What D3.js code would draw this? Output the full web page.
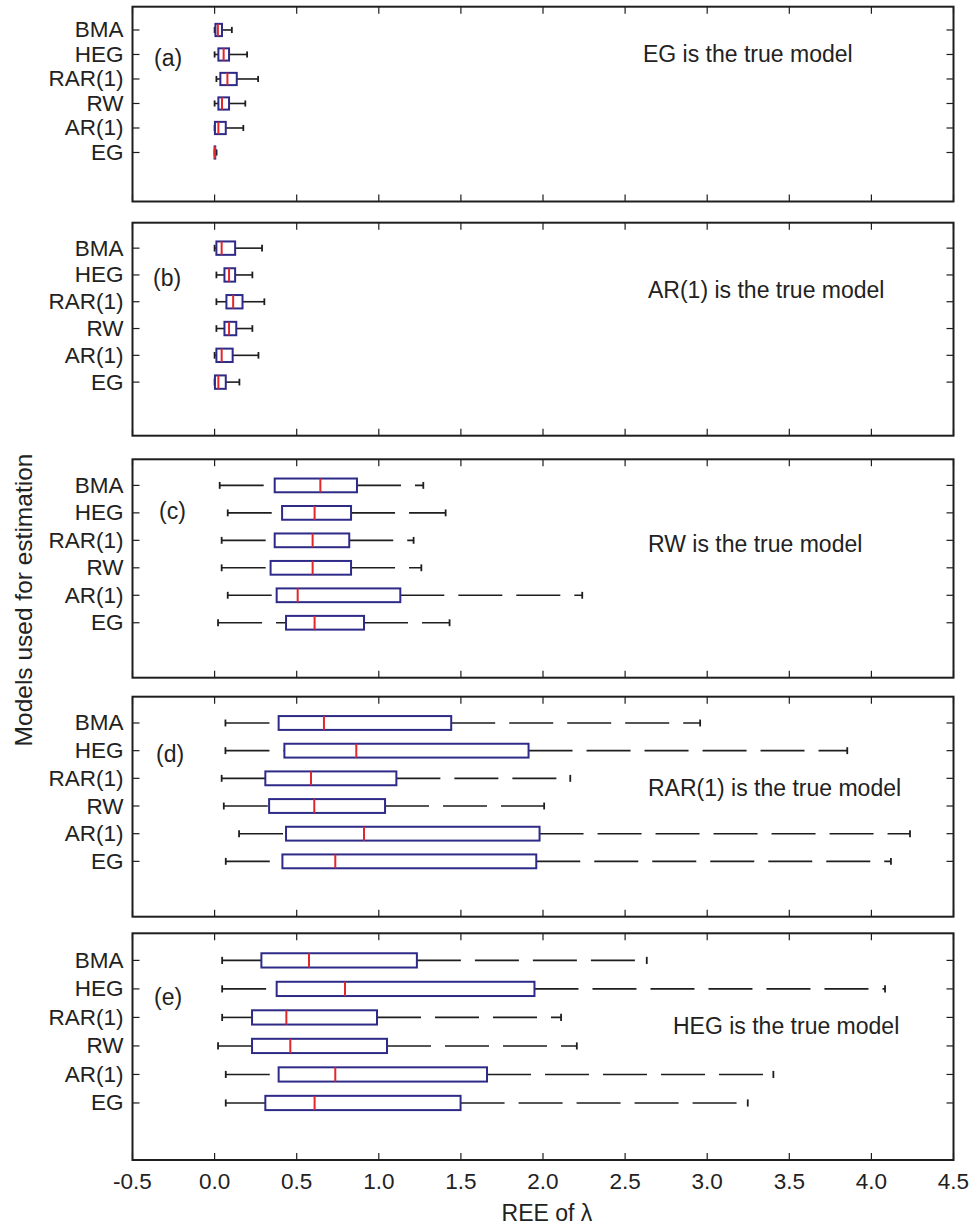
<!DOCTYPE html>
<html>
<head>
<meta charset="utf-8">
<script src="https://cdn.jsdelivr.net/npm/d3@7"></script>
<style>
  html, body { margin: 0; padding: 0; background: #fff; }
  svg { display: block; }
  text { font-family: "Liberation Sans", Arial, Helvetica, sans-serif; fill: #222; }
</style>
</head>
<body>
<svg id="chart" width="974" height="1228"></svg>
<script>
// ---------------- data ----------------
const categories = ["BMA", "HEG", "RAR(1)", "RW", "AR(1)", "EG"];
const panelTags = ["(a)", "(b)", "(c)", "(d)", "(e)"];
const trueModels = ["EG", "AR(1)", "RW", "RAR(1)", "HEG"];
const xTickValues = [-0.5, 0, 0.5, 1, 1.5, 2, 2.5, 3, 3.5, 4, 4.5];
const xTickLabels = ["-0.5", "0.0", "0.5", "1.0", "1.5", "2.0", "2.5", "3.0", "3.5", "4.0", "4.5"];
const xAxisTitle = "REE of \u03BB";
const yAxisTitle = "Models used for estimation";

// panel (a): EG is the true model
const loA  = [0.000, 0.000, 0.011, 0.000, 0.000, 0.000];
const q1A  = [0.005, 0.023, 0.035, 0.023, 0.002, 0.000];
const medA = [0.020, 0.055, 0.078, 0.045, 0.023, 0.002];
const q3A  = [0.045, 0.088, 0.135, 0.088, 0.068, 0.004];
const hiA  = [0.105, 0.198, 0.265, 0.187, 0.175, 0.012];
// panel (b): AR(1) is the true model
const loB  = [0.000, 0.011, 0.011, 0.011, 0.000, 0.000];
const q1B  = [0.011, 0.060, 0.072, 0.060, 0.011, 0.002];
const medB = [0.043, 0.088, 0.113, 0.088, 0.043, 0.023];
const q3B  = [0.125, 0.125, 0.170, 0.132, 0.110, 0.068];
const hiB  = [0.289, 0.230, 0.303, 0.230, 0.267, 0.151];
// panel (c): RW is the true model
const loC  = [0.031, 0.080, 0.043, 0.043, 0.080, 0.021];
const q1C  = [0.366, 0.411, 0.366, 0.341, 0.378, 0.435];
const medC = [0.644, 0.609, 0.597, 0.597, 0.506, 0.609];
const q3C  = [0.867, 0.831, 0.820, 0.831, 1.131, 0.910];
const hiC  = [1.271, 1.407, 1.212, 1.259, 2.239, 1.431];
// panel (d): RAR(1) is the true model
const loD  = [0.066, 0.066, 0.043, 0.056, 0.149, 0.068];
const q1D  = [0.390, 0.425, 0.309, 0.332, 0.435, 0.413];
const medD = [0.666, 0.863, 0.587, 0.607, 0.910, 0.735];
const q3D  = [1.441, 1.912, 1.107, 1.038, 1.979, 1.959];
const hiD  = [2.957, 3.853, 2.166, 2.007, 4.235, 4.119];
// panel (e): HEG is the true model
const loE  = [0.046, 0.046, 0.046, 0.021, 0.068, 0.068];
const q1E  = [0.285, 0.378, 0.228, 0.228, 0.390, 0.309];
const medE = [0.575, 0.794, 0.437, 0.461, 0.735, 0.609];
const q3E  = [1.232, 1.948, 0.989, 1.050, 1.659, 1.498];
const hiE  = [2.632, 4.083, 2.110, 2.206, 3.403, 3.247];

const panelStats = [
  { lo: loA, q1: q1A, med: medA, q3: q3A, hi: hiA },
  { lo: loB, q1: q1B, med: medB, q3: q3B, hi: hiB },
  { lo: loC, q1: q1C, med: medC, q3: q3C, hi: hiC },
  { lo: loD, q1: q1D, med: medD, q3: q3D, hi: hiD },
  { lo: loE, q1: q1E, med: medE, q3: q3E, hi: hiE }
];

// ---------------- layout / style ----------------
const plotLeft = 132.5, plotRight = 953.5;
const panelTops = [6.7, 222.7, 459.3, 696.7, 933.3];
const panelBottoms = [201.5, 435.7, 677.7, 916.7, 1160];
const tagX = [154, 153, 159, 156, 154];
const tagY = [2.15, 2.1, 1.95, 2.12, 2.28];       // in category units (BMA=1)
const noteX = [643, 648, 648, 648, 673];
const noteY = [2.0, 2.55, 3.15, 3.35, 3.3];       // in category units
const fontSize = 22.5;
const boxColor = "#2e2b88", medColor = "#e3262c", inkColor = "#1e1e1e";
const tickLen = 7;

const svg = d3.select("#chart");
const x = d3.scaleLinear().domain([-0.5, 4.5]).range([plotLeft, plotRight]);

panelStats.forEach((st, p) => {
  const y = d3.scaleLinear().domain([0.05, 8]).range([panelTops[p], panelBottoms[p]]);
  const unit = y(2) - y(1);
  const g = svg.append("g");

  // y tick labels
  g.selectAll("text.cat").data(categories).join("text")
    .attr("class", "cat")
    .attr("x", plotLeft - 9)
    .attr("y", (d, i) => y(i + 1))
    .attr("text-anchor", "end")
    .attr("dominant-baseline", "central")
    .style("font-size", fontSize + "px")
    .text(d => d);

  // inward ticks: left & right (y), top & bottom (x)
  const yTicks = categories.map((d, i) => i + 1);
  g.selectAll("line.yl").data(yTicks).join("line")
    .attr("x1", plotLeft).attr("x2", plotLeft + tickLen)
    .attr("y1", d => y(d)).attr("y2", d => y(d))
    .attr("stroke", inkColor).attr("stroke-width", 1.2);
  g.selectAll("line.yr").data(yTicks).join("line")
    .attr("x1", plotRight).attr("x2", plotRight - tickLen)
    .attr("y1", d => y(d)).attr("y2", d => y(d))
    .attr("stroke", inkColor).attr("stroke-width", 1.2);
  g.selectAll("line.xt").data(xTickValues).join("line")
    .attr("x1", d => x(d)).attr("x2", d => x(d))
    .attr("y1", panelTops[p]).attr("y2", panelTops[p] + tickLen)
    .attr("stroke", inkColor).attr("stroke-width", 1.2);
  g.selectAll("line.xb").data(xTickValues).join("line")
    .attr("x1", d => x(d)).attr("x2", d => x(d))
    .attr("y1", panelBottoms[p]).attr("y2", panelBottoms[p] - tickLen)
    .attr("stroke", inkColor).attr("stroke-width", 1.2);

  // boxplots
  const rows = categories.map((c, i) => ({
    pos: i + 1, lo: st.lo[i], q1: st.q1[i], med: st.med[i], q3: st.q3[i], hi: st.hi[i]
  }));
  const bg = g.selectAll("g.bx").data(rows).join("g");
  // lower whisker (drawn from lower adjacent to q1)
  bg.append("line")
    .attr("x1", d => x(d.lo)).attr("x2", d => x(d.q1))
    .attr("y1", d => y(d.pos)).attr("y2", d => y(d.pos))
    .attr("stroke", inkColor).attr("stroke-width", 1.6)
    .attr("stroke-dasharray", "44,14");
  // upper whisker (q3 to upper adjacent)
  bg.append("line")
    .attr("x1", d => x(d.q3)).attr("x2", d => x(d.hi))
    .attr("y1", d => y(d.pos)).attr("y2", d => y(d.pos))
    .attr("stroke", inkColor).attr("stroke-width", 1.6)
    .attr("stroke-dasharray", "44,14");
  // caps
  ["lo", "hi"].forEach(k => {
    bg.append("line")
      .attr("x1", d => x(d[k])).attr("x2", d => x(d[k]))
      .attr("y1", d => y(d.pos - 0.125)).attr("y2", d => y(d.pos + 0.125))
      .attr("stroke", inkColor).attr("stroke-width", 1.8);
  });
  // box
  bg.append("rect")
    .attr("x", d => x(d.q1))
    .attr("width", d => Math.max(0, x(d.q3) - x(d.q1)))
    .attr("y", d => y(d.pos - 0.25))
    .attr("height", unit * 0.5)
    .attr("fill", "none")
    .attr("stroke", boxColor).attr("stroke-width", 2);
  // median
  bg.append("line")
    .attr("x1", d => x(d.med)).attr("x2", d => x(d.med))
    .attr("y1", d => y(d.pos - 0.25)).attr("y2", d => y(d.pos + 0.25))
    .attr("stroke", medColor).attr("stroke-width", 2);

  // frame
  g.append("rect")
    .attr("x", plotLeft).attr("y", panelTops[p])
    .attr("width", plotRight - plotLeft).attr("height", panelBottoms[p] - panelTops[p])
    .attr("fill", "none").attr("stroke", inkColor).attr("stroke-width", 2);

  // panel tag
  g.append("text")
    .attr("x", tagX[p]).attr("y", y(tagY[p]))
    .attr("dominant-baseline", "central")
    .style("font-size", (fontSize + 0.5) + "px")
    .text(panelTags[p]);

  // true model note
  g.append("text")
    .attr("x", noteX[p]).attr("y", y(noteY[p]))
    .attr("dominant-baseline", "central")
    .style("font-size", (fontSize + 0.5) + "px")
    .text(trueModels[p] + " is the true model");

  // bottom x-axis labels only on last panel
  if (p === panelStats.length - 1) {
    g.selectAll("text.xl").data(xTickValues).join("text")
      .attr("x", d => x(d))
      .attr("y", panelBottoms[p] + 21)
      .attr("text-anchor", "middle")
      .attr("dominant-baseline", "central")
      .style("font-size", fontSize + "px")
      .text((d, i) => xTickLabels[i]);
  }
});

// axis titles
svg.append("text")
  .attr("x", (plotLeft + plotRight) / 2 + 4)
  .attr("y", 1213)
  .attr("text-anchor", "middle")
  .attr("dominant-baseline", "central")
  .style("font-size", (fontSize + 0.5) + "px")
  .text(xAxisTitle);

svg.append("text")
  .attr("transform", "translate(23,600) rotate(-90)")
  .attr("text-anchor", "middle")
  .attr("dominant-baseline", "central")
  .style("font-size", (fontSize + 2) + "px")
  .text(yAxisTitle);
</script>
</body>
</html>
